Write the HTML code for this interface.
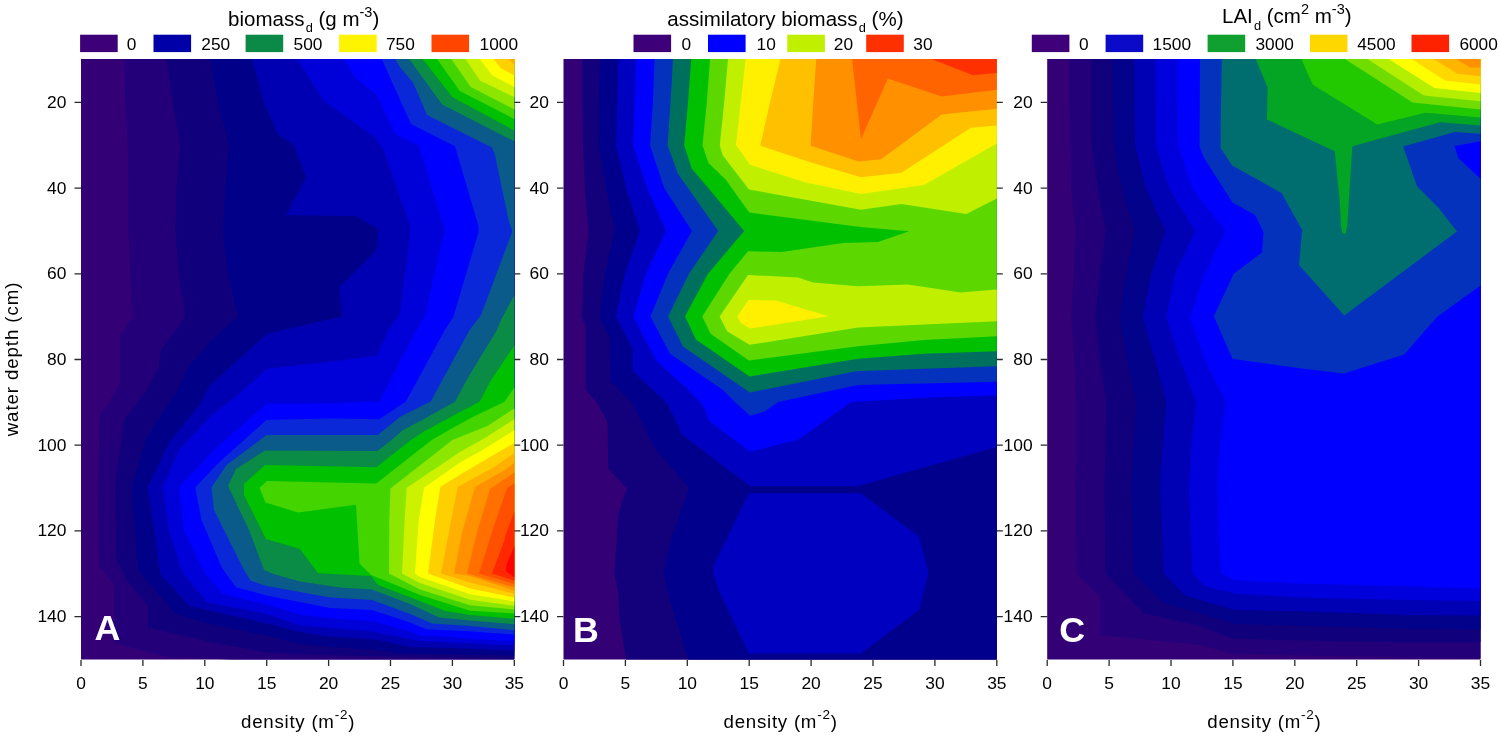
<!DOCTYPE html><html><head><meta charset="utf-8"><style>html,body{margin:0;padding:0;background:#fff;}body{width:1499px;height:736px;overflow:hidden;}svg{display:block;filter:blur(0.5px);}text{font-family:"Liberation Sans",sans-serif;fill:#000;}</style></head><body>
<svg width="1499" height="736" viewBox="0 0 1499 736">
<rect width="1499" height="736" fill="#fff"/>
<rect x="81.0" y="59.0" width="433.3" height="600.5" fill="#330075"/>
<polygon points="124.0,59.0 124.0,59.5 125.2,102.4 127.8,145.2 128.5,188.0 128.5,230.9 130.2,273.7 132.8,316.6 120.2,335.0 120.2,382.5 108.0,404.0 100.2,414.0 97.8,487.5 99.0,565.0 110.7,580.0 114.0,586.0 114.0,642.7 140.0,650.0 166.7,656.7 230.0,659.5 230.0,659.5 514.3,659.5 514.3,59.0" fill="#23007a"/>
<polygon points="166.5,59.0 166.5,59.5 172.8,102.4 180.2,145.2 176.5,188.0 175.2,230.9 179.0,273.7 185.2,316.6 160.2,351.2 159.0,367.5 146.5,390.0 124.0,420.0 115.2,485.0 116.5,560.0 126.7,580.0 140.0,596.7 148.0,606.0 148.0,627.4 209.4,642.0 266.7,652.7 340.0,655.4 514.3,659.0 514.3,659.0 514.3,59.0" fill="#10007b"/>
<polygon points="210.2,59.0 210.2,59.5 217.8,102.4 229.0,145.2 225.2,188.0 222.8,230.9 227.8,273.7 237.8,316.6 214.0,337.5 187.8,367.5 177.8,390.0 146.5,437.5 131.5,487.5 137.0,560.0 140.0,572.7 176.0,614.0 206.7,623.4 266.7,635.4 300.0,644.0 340.0,647.4 376.3,649.8 400.0,653.5 514.3,655.5 514.3,655.5 514.3,59.0" fill="#000088"/>
<polygon points="252.2,59.0 252.2,59.5 263.5,102.4 278.5,135.0 293.5,145.0 306.0,177.5 286.0,215.0 356.0,216.2 378.5,229.0 378.5,232.0 376.5,250.0 339.5,287.0 342.0,316.6 267.0,333.8 210.0,385.0 200.0,404.0 169.0,442.5 147.8,487.5 154.0,530.0 160.2,574.0 189.4,606.0 266.7,623.4 300.0,632.0 330.0,636.7 376.3,639.6 410.0,647.0 451.9,648.0 514.3,650.5 514.3,650.5 514.3,59.0" fill="#0000b2"/>
<polygon points="297.5,59.0 297.5,59.5 324.0,101.0 375.0,137.5 384.0,151.0 410.0,226.0 410.5,232.0 399.5,315.0 388.3,330.0 376.8,355.6 330.0,361.8 267.0,368.8 238.0,395.0 211.5,415.0 179.0,450.0 162.8,487.5 169.0,530.0 182.0,572.0 206.7,602.0 266.7,614.0 300.0,625.6 330.0,628.0 372.0,631.5 410.0,639.0 420.0,641.0 451.9,642.5 514.3,645.5 514.3,645.5 514.3,59.0" fill="#0000d8"/>
<polygon points="344.0,59.0 344.0,59.5 355.0,77.5 377.0,95.0 395.0,134.0 418.5,145.5 443.5,225.0 444.5,231.0 433.5,277.5 424.8,316.6 416.5,330.0 379.4,401.5 330.0,403.3 266.5,403.8 214.0,450.0 179.0,487.5 184.0,530.0 204.0,572.0 222.7,594.0 266.7,604.7 300.0,614.6 330.0,618.3 372.0,621.0 410.0,631.3 420.0,635.7 451.9,637.0 470.0,638.9 514.3,641.0 514.3,641.0 514.3,59.0" fill="#0000ff"/>
<polygon points="382.0,59.0 382.0,59.5 400.0,99.8 411.0,124.0 455.0,146.2 478.5,226.0 478.5,232.0 453.5,316.6 444.8,330.0 405.9,401.5 379.4,419.2 330.0,418.5 266.5,420.0 219.0,462.5 195.2,487.5 201.5,520.0 222.0,568.0 236.0,587.3 266.7,595.4 300.0,602.1 330.0,607.9 372.0,610.0 410.0,622.6 426.2,629.3 451.9,630.5 470.0,631.3 514.3,634.6 514.3,634.6 514.3,59.0" fill="#0a28d8"/>
<polygon points="395.5,59.0 395.5,59.5 400.0,67.2 412.9,82.2 427.0,115.0 492.0,147.4 495.0,155.0 508.5,220.0 512.3,231.5 481.0,315.0 469.5,330.0 430.7,401.5 400.6,416.5 377.7,435.1 266.5,435.0 226.5,465.0 211.5,487.5 214.0,510.0 244.0,570.0 250.7,580.7 266.7,586.0 300.0,591.9 330.0,597.6 372.0,600.0 410.0,613.9 432.0,623.4 470.0,625.9 514.3,630.2 514.3,630.2 514.3,59.0" fill="#0a5a8a"/>
<polygon points="409.5,59.0 409.5,59.5 442.1,104.6 514.3,141.3 514.3,141.3 514.3,59.0" fill="#0a8c46"/>
<polygon points="514.3,295.0 514.3,295.0 501.0,320.0 496.9,330.0 466.6,380.0 455.2,401.6 423.1,419.4 403.0,430.0 391.5,440.0 377.4,450.9 264.9,450.6 236.0,468.9 228.0,486.0 249.0,530.0 264.0,570.0 273.4,574.0 300.0,581.6 340.0,587.5 372.0,589.5 410.0,604.1 439.4,617.6 470.0,620.4 514.3,624.2 514.3,624.2" fill="#0a8c46"/>
<polygon points="423.1,59.0 423.1,59.5 452.3,97.1 514.3,130.4 514.3,130.4 514.3,59.0" fill="#00c000"/>
<polygon points="514.3,345.5 514.3,345.5 491.1,380.0 479.8,401.6 452.6,416.1 424.0,431.6 411.1,440.0 376.3,467.2 264.9,465.1 244.0,484.0 244.0,495.0 266.0,539.0 300.0,549.0 318.0,573.3 370.7,576.0 378.2,585.0 445.5,611.0 470.0,615.0 514.3,618.8 514.3,618.8" fill="#00c000"/>
<polygon points="437.4,59.0 437.4,59.5 459.8,91.0 514.3,118.9 514.3,118.9 514.3,59.0" fill="#44d400"/>
<polygon points="514.3,387.5 514.3,387.5 504.6,401.7 472.2,417.2 452.6,428.0 431.7,440.0 376.3,483.5 266.9,481.0 259.5,488.0 265.5,502.5 298.0,512.5 356.0,504.8 359.5,563.5 371.1,575.1 388.4,582.0 420.0,595.0 470.0,610.7 514.3,613.4 514.3,613.4" fill="#44d400"/>
<polygon points="451.6,59.0 451.6,59.5 470.7,86.9 514.3,109.4 514.3,109.4 514.3,59.0" fill="#8ce600"/>
<polygon points="514.3,408.5 514.3,408.5 487.4,425.9 452.4,440.0 390.4,488.4 389.3,520.0 389.0,573.5 420.0,589.5 470.0,605.2 514.3,609.6 514.3,609.6" fill="#8ce600"/>
<polygon points="465.9,59.0 465.9,59.5 480.2,80.8 514.3,97.1 514.3,97.1 514.3,59.0" fill="#ccf200"/>
<polygon points="514.3,419.3 514.3,419.3 485.2,437.8 460.0,452.0 406.7,487.8 404.6,520.0 402.0,573.5 420.0,583.0 470.0,599.8 514.3,605.8 514.3,605.8" fill="#ccf200"/>
<polygon points="480.2,59.0 480.2,59.5 492.4,75.4 514.3,86.9 514.3,86.9 514.3,59.0" fill="#ffff00"/>
<polygon points="514.3,430.2 514.3,430.2 480.9,450.9 460.0,462.5 424.1,487.8 418.7,520.0 415.0,573.5 420.0,577.0 470.0,594.3 514.3,601.4 514.3,601.4" fill="#ffff00"/>
<polygon points="493.8,59.0 493.8,59.5 501.2,68.6 514.3,75.4 514.3,75.4 514.3,59.0" fill="#ffd000"/>
<polygon points="514.3,443.0 514.3,443.0 487.4,458.4 460.0,474.8 440.4,486.7 435.0,520.0 428.0,573.5 470.0,588.4 514.3,597.6 514.3,597.6" fill="#ffd000"/>
<polygon points="508.7,59.0 508.7,59.5 514.3,64.5 514.3,64.5 514.3,59.0" fill="#ffb000"/>
<polygon points="514.3,453.0 514.3,453.0 493.9,467.2 457.8,486.7 451.3,520.0 447.4,540.0 441.0,573.5 470.0,582.4 514.3,593.8 514.3,593.8" fill="#ffb000"/>
<polygon points="514.3,463.0 514.3,463.0 504.8,470.0 475.0,487.0 462.4,531.0 454.0,573.5 470.0,575.9 514.3,590.5 514.3,590.5" fill="#ff9000"/>
<polygon points="514.3,472.6 514.3,472.6 490.0,489.0 477.3,531.0 467.0,573.5 514.3,587.3 514.3,587.3" fill="#ff7000"/>
<polygon points="514.3,483.5 514.3,483.5 507.0,488.0 492.3,531.0 479.0,573.5 514.3,584.0 514.3,584.0" fill="#ff5000"/>
<polygon points="514.3,511.7 514.3,511.7 505.5,535.0 504.5,540.0 492.0,573.5 514.3,580.8 514.3,580.8" fill="#ff2800"/>
<polygon points="514.3,546.0 514.3,546.0 506.5,565.0 506.0,571.0 514.3,577.5 514.3,577.5" fill="#ff0000"/>
<rect x="563.5" y="59.0" width="433.3" height="600.5" fill="#330075"/>
<polygon points="582.2,59.0 582.2,59.5 582.2,102.4 583.0,145.2 584.8,188.0 588.5,230.9 583.5,273.7 581.7,316.6 585.8,327.2 585.8,390.0 596.7,402.2 607.6,422.6 608.2,468.8 626.6,488.2 618.4,514.0 614.3,573.7 618.4,592.2 619.1,616.6 625.9,659.5 625.9,659.5 996.8,659.5 996.8,59.0" fill="#13007b"/>
<polygon points="599.8,59.0 599.8,59.5 599.0,102.4 598.5,145.2 606.0,188.0 614.8,230.9 604.8,273.7 599.4,316.6 609.6,338.0 610.3,381.5 632.0,402.2 653.8,447.0 682.3,480.0 689.1,488.2 671.4,537.0 663.3,573.7 671.4,605.8 688.4,659.5 688.4,659.5 996.8,659.5 996.8,59.0" fill="#00008c"/>
<polygon points="618.5,59.0 618.5,59.5 617.2,102.4 616.0,145.2 626.0,188.0 639.8,230.9 624.8,273.7 615.7,316.6 632.7,348.9 632.7,370.7 653.0,390.0 667.3,403.6 682.3,434.8 749.8,486.1 858.0,486.1 996.8,447.1 996.8,447.1 996.8,59.0" fill="#0000c0"/>
<polygon points="748.9,493.2 860.7,493.2 918.9,536.4 928.5,573.3 918.9,610.1 860.7,653.6 748.9,653.4 717.6,588.1 713.5,573.7 713.5,566.0 748.9,493.2" fill="#0000c0"/>
<polygon points="636.0,59.0 636.0,59.5 634.8,102.4 633.0,145.2 647.2,188.0 666.0,230.9 646.0,273.7 633.4,316.6 656.5,361.1 688.4,390.0 702.7,405.0 709.5,421.2 750.2,451.8 798.5,439.4 851.1,402.1 925.8,397.8 996.8,395.3 996.8,395.3 996.8,59.0" fill="#0000ff"/>
<polygon points="654.5,59.0 654.5,59.5 653.0,102.4 650.0,145.2 664.2,188.0 692.0,230.9 668.0,273.7 650.4,316.6 670.0,353.7 723.0,390.0 736.6,403.6 750.2,415.8 764.5,411.4 778.1,402.1 857.9,385.1 996.8,381.7 996.8,381.7 996.8,59.0" fill="#0432bc"/>
<polygon points="673.0,59.0 673.0,59.5 670.5,102.4 667.5,145.2 678.0,173.8 718.2,230.9 689.0,273.7 668.0,316.6 683.0,346.5 749.8,392.5 856.0,371.2 924.0,368.8 996.8,366.2 996.8,366.2 996.8,59.0" fill="#00705e"/>
<polygon points="691.2,59.0 691.2,59.5 688.0,102.4 684.2,145.2 691.8,168.8 706.8,186.2 744.2,231.1 708.0,273.7 685.0,316.6 695.9,339.4 749.5,376.5 858.0,358.8 924.0,353.8 996.8,351.2 996.8,351.2 996.8,59.0" fill="#00c000"/>
<polygon points="710.0,59.0 710.0,59.5 706.8,102.4 702.5,145.2 708.5,163.0 726.0,180.0 749.2,212.5 860.5,227.0 909.2,231.2 878.0,242.0 843.0,243.0 781.8,252.0 748.0,251.2 729.5,273.7 702.2,316.6 710.8,334.0 748.9,360.5 858.0,346.2 924.0,340.0 996.8,336.2 996.8,336.2 996.8,59.0" fill="#5cd800"/>
<polygon points="728.0,59.0 728.0,59.5 724.2,102.4 719.8,145.2 722.5,155.0 749.0,189.5 861.0,209.7 901.4,204.0 966.4,214.1 996.8,198.5 996.8,198.5 996.8,59.0" fill="#c0f000"/>
<polygon points="719.6,316.6 748.0,275.0 798.0,277.5 813.0,282.5 858.0,286.2 908.0,284.5 960.5,292.5 996.8,289.5 996.8,289.5 996.8,321.2 996.8,321.2 858.0,327.5 749.5,344.8 727.1,331.2" fill="#c0f000"/>
<polygon points="745.6,59.0 745.6,59.5 740.8,102.4 736.0,145.0 750.1,164.8 806.0,182.5 861.0,194.0 923.8,185.0 996.8,143.5 996.8,143.5 996.8,59.0" fill="#fff000"/>
<polygon points="737.3,316.4 748.5,300.0 776.0,300.5 828.5,316.2 750.2,328.5 740.7,323.1" fill="#fff000"/>
<polygon points="780.3,59.0 780.3,59.5 770.0,102.4 760.2,145.8 811.0,162.5 861.0,177.2 901.4,172.7 970.9,127.8 996.8,125.6 996.8,125.6 996.8,59.0" fill="#ffc000"/>
<polygon points="816.2,59.0 816.2,59.5 813.3,102.4 810.6,145.8 858.8,161.5 881.2,159.2 941.7,114.4 996.8,108.8 996.8,108.8 996.8,59.0" fill="#ff9000"/>
<polygon points="852.1,59.0 852.1,59.5 861.0,139.0 887.9,78.5 941.7,96.5 996.8,89.7 996.8,89.7 996.8,59.0" fill="#ff6400"/>
<polygon points="932.8,59.0 932.8,59.5 973.1,75.2 996.8,72.9 996.8,72.9 996.8,59.0" fill="#ff3000"/>
<rect x="1047.2" y="59.0" width="433.3" height="600.5" fill="#330075"/>
<polygon points="1069.5,59.0 1069.5,59.5 1069.5,102.5 1070.5,145.2 1071.1,188.0 1075.5,231.0 1073.8,273.8 1071.2,317.5 1074.5,360.0 1076.2,402.3 1076.2,445.2 1075.8,488.0 1075.8,530.9 1076.2,573.5 1100.2,597.5 1100.3,635.3 1200.0,645.0 1232.5,653.8 1300.0,655.6 1408.0,657.5 1480.5,658.4 1480.5,658.4 1480.5,59.0" fill="#23007a"/>
<polygon points="1091.2,59.0 1091.2,59.5 1091.2,102.5 1091.8,145.2 1097.6,188.0 1105.5,231.0 1100.0,273.8 1095.0,317.5 1100.0,360.0 1106.2,402.3 1105.5,445.2 1104.5,488.0 1105.0,530.9 1105.3,573.5 1143.5,613.0 1200.0,626.2 1232.5,638.8 1300.0,640.4 1408.0,642.5 1480.5,642.0 1480.5,642.0 1480.5,59.0" fill="#11007b"/>
<polygon points="1112.5,59.0 1112.5,59.5 1113.0,102.5 1113.8,145.2 1121.4,188.0 1135.0,231.0 1126.2,273.8 1119.5,317.5 1127.5,360.0 1136.2,402.3 1133.8,445.2 1131.2,488.0 1133.0,530.9 1134.0,573.5 1162.6,602.5 1235.0,623.8 1300.0,625.8 1408.0,628.8 1480.5,629.3 1480.5,629.3 1480.5,59.0" fill="#02028a"/>
<polygon points="1134.2,59.0 1134.2,59.5 1134.5,102.5 1135.0,145.2 1145.8,188.0 1165.0,231.0 1151.2,273.8 1142.5,317.5 1155.0,360.0 1166.2,402.3 1162.5,445.2 1160.0,488.0 1162.0,530.9 1163.5,573.5 1185.0,595.5 1235.0,610.0 1300.0,611.3 1408.0,615.0 1480.5,615.4 1480.5,615.4 1480.5,59.0" fill="#0000b4"/>
<polygon points="1155.5,59.0 1155.5,59.5 1155.8,102.5 1156.2,145.2 1169.0,188.0 1195.0,231.0 1175.0,273.8 1166.2,317.5 1180.0,360.0 1196.2,402.3 1191.2,445.2 1188.8,488.0 1190.8,530.9 1192.5,573.5 1205.3,586.3 1236.2,593.8 1300.0,597.4 1408.0,600.0 1480.5,600.9 1480.5,600.9 1480.5,59.0" fill="#0000dc"/>
<polygon points="1177.5,59.0 1177.5,59.5 1177.8,102.5 1178.2,145.2 1192.0,188.0 1225.5,231.0 1205.0,273.8 1190.0,317.5 1205.0,360.0 1226.2,402.3 1220.0,445.2 1217.5,488.0 1218.8,530.9 1221.0,573.5 1233.8,580.0 1300.0,583.6 1408.0,586.2 1480.5,588.4 1480.5,588.4 1480.5,59.0" fill="#0000ff"/>
<polygon points="1200.0,59.0 1200.0,59.5 1199.5,146.2 1203.8,157.5 1232.5,202.5 1255.0,215.0 1263.5,232.0 1262.0,252.5 1233.8,273.8 1213.8,316.2 1232.5,358.8 1300.0,368.3 1344.0,373.4 1404.1,354.6 1436.9,317.0 1480.5,285.6 1480.5,285.6 1480.5,178.8 1480.5,178.8 1458.2,158.0 1454.5,146.0 1480.5,141.2 1480.5,141.2 1480.5,59.0" fill="#0432bc"/>
<polygon points="1221.8,59.0 1221.8,59.5 1220.8,120.0 1220.5,148.0 1232.2,165.5 1281.5,193.0 1302.2,230.0 1299.0,265.0 1344.2,315.6 1457.0,231.4 1438.2,207.5 1417.0,186.2 1403.2,146.5 1455.0,132.0 1480.5,133.8 1480.5,133.8 1480.5,59.0" fill="#006e6e"/>
<polygon points="1256.0,59.0 1256.0,59.5 1267.6,87.5 1267.0,119.5 1334.8,151.2 1339.6,200.0 1341.0,225.0 1342.6,233.4 1345.6,233.4 1347.4,225.0 1348.9,200.0 1352.3,146.2 1439.8,122.2 1480.5,125.6 1480.5,125.6 1480.5,59.0" fill="#04a424"/>
<polygon points="1301.5,59.0 1301.5,59.5 1312.8,84.7 1377.3,124.4 1425.4,112.8 1480.5,117.5 1480.5,117.5 1480.5,59.0" fill="#22c800"/>
<polygon points="1345.6,59.0 1345.6,59.5 1412.5,102.5 1480.5,109.4 1480.5,109.4 1480.5,59.0" fill="#70dc00"/>
<polygon points="1368.1,59.0 1368.1,59.5 1423.8,95.6 1480.5,101.2 1480.5,101.2 1480.5,59.0" fill="#b4ee00"/>
<polygon points="1389.4,59.0 1389.4,59.5 1434.4,88.1 1480.5,93.1 1480.5,93.1 1480.5,59.0" fill="#ffff00"/>
<polygon points="1412.5,59.0 1412.5,59.5 1445.0,80.6 1480.5,84.4 1480.5,84.4 1480.5,59.0" fill="#ffd800"/>
<polygon points="1434.4,59.0 1434.4,59.5 1457.5,73.8 1480.5,76.2 1480.5,76.2 1480.5,59.0" fill="#ffb400"/>
<polygon points="1456.9,59.0 1456.9,59.5 1470.0,67.5 1480.5,67.5 1480.5,67.5 1480.5,59.0" fill="#ff9000"/>
<path d="M81.00 660.0V666.0 M142.90 660.0V666.0 M204.80 660.0V666.0 M266.70 660.0V666.0 M328.60 660.0V666.0 M390.50 660.0V666.0 M452.40 660.0V666.0 M514.30 660.0V666.0 M74.50 102.36H81.00 M514.30 102.36H520.30 M74.50 188.07H81.00 M514.30 188.07H520.30 M74.50 273.79H81.00 M514.30 273.79H520.30 M74.50 359.50H81.00 M514.30 359.50H520.30 M74.50 445.21H81.00 M514.30 445.21H520.30 M74.50 530.93H81.00 M514.30 530.93H520.30 M74.50 616.64H81.00 M514.30 616.64H520.30 M563.50 660.0V666.0 M625.40 660.0V666.0 M687.30 660.0V666.0 M749.20 660.0V666.0 M811.10 660.0V666.0 M873.00 660.0V666.0 M934.90 660.0V666.0 M996.80 660.0V666.0 M557.00 102.36H563.50 M996.80 102.36H1002.80 M557.00 188.07H563.50 M996.80 188.07H1002.80 M557.00 273.79H563.50 M996.80 273.79H1002.80 M557.00 359.50H563.50 M996.80 359.50H1002.80 M557.00 445.21H563.50 M996.80 445.21H1002.80 M557.00 530.93H563.50 M996.80 530.93H1002.80 M557.00 616.64H563.50 M996.80 616.64H1002.80 M1047.20 660.0V666.0 M1109.10 660.0V666.0 M1171.00 660.0V666.0 M1232.90 660.0V666.0 M1294.80 660.0V666.0 M1356.70 660.0V666.0 M1418.60 660.0V666.0 M1480.50 660.0V666.0 M1040.70 102.36H1047.20 M1040.70 188.07H1047.20 M1040.70 273.79H1047.20 M1040.70 359.50H1047.20 M1040.70 445.21H1047.20 M1040.70 530.93H1047.20 M1040.70 616.64H1047.20" stroke="#2a2a2a" stroke-width="1.3" fill="none"/>
<text x="81.0" y="688.6" font-size="17.4" text-anchor="middle">0</text>
<text x="142.9" y="688.6" font-size="17.4" text-anchor="middle">5</text>
<text x="204.8" y="688.6" font-size="17.4" text-anchor="middle">10</text>
<text x="266.7" y="688.6" font-size="17.4" text-anchor="middle">15</text>
<text x="328.6" y="688.6" font-size="17.4" text-anchor="middle">20</text>
<text x="390.5" y="688.6" font-size="17.4" text-anchor="middle">25</text>
<text x="452.4" y="688.6" font-size="17.4" text-anchor="middle">30</text>
<text x="514.3" y="688.6" font-size="17.4" text-anchor="middle">35</text>
<text x="66.4" y="107.8" font-size="17.4" text-anchor="end">20</text>
<text x="66.4" y="193.5" font-size="17.4" text-anchor="end">40</text>
<text x="66.4" y="279.2" font-size="17.4" text-anchor="end">60</text>
<text x="66.4" y="364.9" font-size="17.4" text-anchor="end">80</text>
<text x="66.4" y="450.6" font-size="17.4" text-anchor="end">100</text>
<text x="66.4" y="536.3" font-size="17.4" text-anchor="end">120</text>
<text x="66.4" y="622.0" font-size="17.4" text-anchor="end">140</text>
<text x="298.1" y="727.8" font-size="18.7" letter-spacing="0.75" text-anchor="middle">density (m<tspan dy="-8.5" font-size="13.5">-2</tspan><tspan dy="8.5">)</tspan></text>
<text x="563.5" y="688.6" font-size="17.4" text-anchor="middle">0</text>
<text x="625.4" y="688.6" font-size="17.4" text-anchor="middle">5</text>
<text x="687.3" y="688.6" font-size="17.4" text-anchor="middle">10</text>
<text x="749.2" y="688.6" font-size="17.4" text-anchor="middle">15</text>
<text x="811.1" y="688.6" font-size="17.4" text-anchor="middle">20</text>
<text x="873.0" y="688.6" font-size="17.4" text-anchor="middle">25</text>
<text x="934.9" y="688.6" font-size="17.4" text-anchor="middle">30</text>
<text x="996.8" y="688.6" font-size="17.4" text-anchor="middle">35</text>
<text x="548.9" y="107.8" font-size="17.4" text-anchor="end">20</text>
<text x="548.9" y="193.5" font-size="17.4" text-anchor="end">40</text>
<text x="548.9" y="279.2" font-size="17.4" text-anchor="end">60</text>
<text x="548.9" y="364.9" font-size="17.4" text-anchor="end">80</text>
<text x="548.9" y="450.6" font-size="17.4" text-anchor="end">100</text>
<text x="548.9" y="536.3" font-size="17.4" text-anchor="end">120</text>
<text x="548.9" y="622.0" font-size="17.4" text-anchor="end">140</text>
<text x="780.6" y="727.8" font-size="18.7" letter-spacing="0.75" text-anchor="middle">density (m<tspan dy="-8.5" font-size="13.5">-2</tspan><tspan dy="8.5">)</tspan></text>
<text x="1047.2" y="688.6" font-size="17.4" text-anchor="middle">0</text>
<text x="1109.1" y="688.6" font-size="17.4" text-anchor="middle">5</text>
<text x="1171.0" y="688.6" font-size="17.4" text-anchor="middle">10</text>
<text x="1232.9" y="688.6" font-size="17.4" text-anchor="middle">15</text>
<text x="1294.8" y="688.6" font-size="17.4" text-anchor="middle">20</text>
<text x="1356.7" y="688.6" font-size="17.4" text-anchor="middle">25</text>
<text x="1418.6" y="688.6" font-size="17.4" text-anchor="middle">30</text>
<text x="1480.5" y="688.6" font-size="17.4" text-anchor="middle">35</text>
<text x="1032.6" y="107.8" font-size="17.4" text-anchor="end">20</text>
<text x="1032.6" y="193.5" font-size="17.4" text-anchor="end">40</text>
<text x="1032.6" y="279.2" font-size="17.4" text-anchor="end">60</text>
<text x="1032.6" y="364.9" font-size="17.4" text-anchor="end">80</text>
<text x="1032.6" y="450.6" font-size="17.4" text-anchor="end">100</text>
<text x="1032.6" y="536.3" font-size="17.4" text-anchor="end">120</text>
<text x="1032.6" y="622.0" font-size="17.4" text-anchor="end">140</text>
<text x="1264.4" y="727.8" font-size="18.7" letter-spacing="0.75" text-anchor="middle">density (m<tspan dy="-8.5" font-size="13.5">-2</tspan><tspan dy="8.5">)</tspan></text>
<text transform="translate(18.2,359) rotate(-90)" font-size="18.7" letter-spacing="0.9" text-anchor="middle">water depth (cm)</text>
<text x="94.5" y="640.3" font-size="35.8" font-weight="bold" style="fill:#fff">A</text>
<text x="573.1" y="641.7" font-size="35.8" font-weight="bold" style="fill:#fff">B</text>
<text x="1059.2" y="642.3" font-size="35.8" font-weight="bold" style="fill:#fff">C</text>
<rect x="80.1" y="34.7" width="37.6" height="17.4" fill="#3e0078"/>
<text x="126.8" y="49.5" font-size="17.3">0</text>
<rect x="153.5" y="34.7" width="37.6" height="17.4" fill="#0000a8"/>
<text x="201.3" y="49.5" font-size="17.3">250</text>
<rect x="245.6" y="34.7" width="37.6" height="17.4" fill="#0a8a46"/>
<text x="293.6" y="49.5" font-size="17.3">500</text>
<rect x="339.1" y="34.7" width="37.6" height="17.4" fill="#fff400"/>
<text x="386.0" y="49.5" font-size="17.3">750</text>
<rect x="431.5" y="34.7" width="37.6" height="17.4" fill="#ff4500"/>
<text x="479.6" y="49.5" font-size="17.3">1000</text>
<rect x="633.5" y="34.7" width="37.6" height="17.4" fill="#3e0078"/>
<text x="681.6" y="49.5" font-size="17.3">0</text>
<rect x="708.0" y="34.7" width="37.6" height="17.4" fill="#0000ff"/>
<text x="756.6" y="49.5" font-size="17.3">10</text>
<rect x="787.3" y="34.7" width="37.6" height="17.4" fill="#c0f000"/>
<text x="833.8" y="49.5" font-size="17.3">20</text>
<rect x="866.2" y="34.7" width="37.6" height="17.4" fill="#ff3000"/>
<text x="913.3" y="49.5" font-size="17.3">30</text>
<rect x="1031.8" y="34.7" width="37.6" height="17.4" fill="#3f007a"/>
<text x="1079.1" y="49.5" font-size="17.3">0</text>
<rect x="1105.6" y="34.7" width="37.6" height="17.4" fill="#0a0ac8"/>
<text x="1152.6" y="49.5" font-size="17.3">1500</text>
<rect x="1207.6" y="34.7" width="37.6" height="17.4" fill="#10a030"/>
<text x="1255.5" y="49.5" font-size="17.3">3000</text>
<rect x="1309.9" y="34.7" width="37.6" height="17.4" fill="#ffd700"/>
<text x="1357.2" y="49.5" font-size="17.3">4500</text>
<rect x="1411.5" y="34.7" width="37.6" height="17.4" fill="#ff2200"/>
<text x="1459.4" y="49.5" font-size="17.3">6000</text>
<text x="228.1" y="25.8" font-size="20.5">biomass<tspan dx="1.2" dy="6.6" font-size="12.8">d</tspan><tspan dy="-6.6"> (g m</tspan><tspan dy="-8.8" font-size="14.5">-3</tspan><tspan dy="8.8">)</tspan></text>
<text x="667.3" y="25.8" font-size="20.5">assimilatory biomass<tspan dx="1.2" dy="6.6" font-size="12.8">d</tspan><tspan dy="-6.6"> (%)</tspan></text>
<text x="1222.0" y="22.9" font-size="20.5">LAI<tspan dx="1.2" dy="7.5" font-size="12.8">d</tspan><tspan dy="-7.5"> (cm</tspan><tspan dy="-8.8" font-size="14.5">2</tspan><tspan dy="8.8"> m</tspan><tspan dy="-8.8" font-size="14.5">-3</tspan><tspan dy="8.8">)</tspan></text>
</svg></body></html>
